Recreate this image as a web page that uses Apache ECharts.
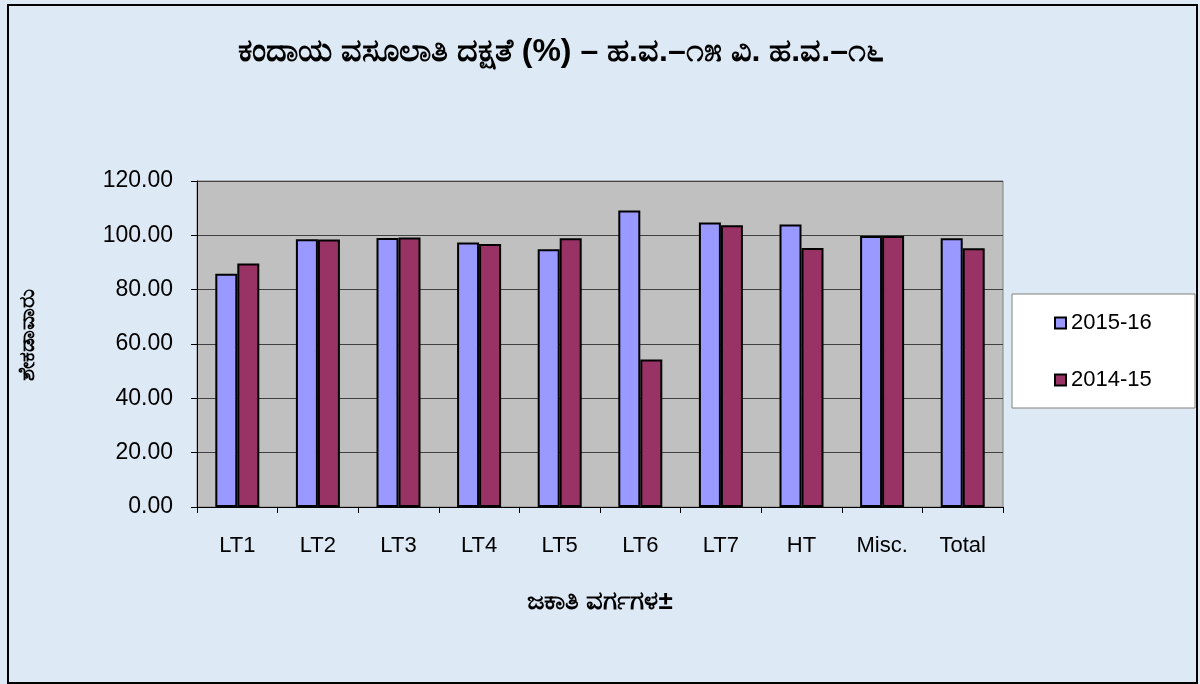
<!DOCTYPE html>
<html>
<head>
<meta charset="utf-8">
<script src="https://cdn.jsdelivr.net/npm/echarts@6/dist/echarts.min.js"></script>
<style>
html,body{margin:0;padding:0;background:#fff;}
#chart{width:1200px;height:684px;}
</style>
</head>
<body>
<div id="chart"></div>
<script>
var categories = ['LT1','LT2','LT3','LT4','LT5','LT6','LT7','HT','Misc.','Total'];
var series2015_16 = [85.9, 98.6, 99.0, 97.4, 94.9, 109.1, 104.7, 104.0, 99.8, 98.9];
var series2014_15 = [89.6, 98.5, 99.2, 96.8, 98.9, 54.3, 103.7, 95.3, 99.8, 95.2];
var seriesNames = ['2015-16','2014-15'];
var titleText = 'ಕಂದಾಯ ವಸೂಲಾತಿ ದಕ್ಷತೆ (%) – ಹ.ವ.–೧೫ ವಿ. ಹ.ವ.–೧೬';
var xAxisName = 'ಜಕಾತಿ ವರ್ಗಗಳ±';
var yAxisName = 'ಶೇಕಡಾವಾರು';

var chart = echarts.init(document.getElementById('chart'), null, {renderer:'canvas'});
var fontFam = 'Arial, "Liberation Sans", "Noto Sans", sans-serif';
chart.setOption({
  animation:false,
  backgroundColor:'#dde9f5',
  title:{
    text:titleText, left:556, textAlign:'center', top:31,
    textStyle:{fontFamily:fontFam, fontSize:32, fontWeight:'bold', color:'#000'}
  },
  graphic:[
    {type:'rect', shape:{x:8,y:5,width:1189,height:678}, style:{fill:'none', stroke:'#000', lineWidth:2}, silent:true, z:-1},
    {type:'rect', shape:{x:1012,y:294,width:183,height:114}, style:{fill:'#fff', stroke:'#808080', lineWidth:1}, silent:true, z:0}
  ],
  legend:{
    orient:'vertical', left:1054, top:312, padding:0, itemGap:35,
    itemWidth:11, itemHeight:11, icon:'rect', z:5,
    textStyle:{fontFamily:fontFam, fontSize:22, color:'#000'},
    data:seriesNames
  },
  grid:{left:197, top:181, width:806, height:326, show:true, backgroundColor:'#c0c0c0', borderColor:'#808080', borderWidth:1},
  xAxis:{
    type:'category', data:categories,
    name:xAxisName, nameLocation:'middle', nameGap:82,
    nameTextStyle:{fontFamily:fontFam, fontSize:26, fontWeight:'bold', color:'#000'},
    axisLine:{lineStyle:{color:'#000', width:1}},
    axisTick:{show:true, length:6, lineStyle:{color:'#000'}},
    axisLabel:{fontFamily:fontFam, fontSize:22, color:'#000', margin:28}
  },
  yAxis:{
    type:'value', min:0, max:120, interval:20,
    name:yAxisName, nameLocation:'middle', nameGap:158, nameRotate:90,
    nameTextStyle:{fontFamily:fontFam, fontSize:22, fontWeight:'bold', color:'#000', padding:[0,0,0,18]},
    axisLine:{show:true, lineStyle:{color:'#000', width:1}},
    axisTick:{show:true, length:6, lineStyle:{color:'#000'}},
    axisLabel:{fontFamily:fontFam, fontSize:23, color:'#000', margin:24, formatter:function(v){return v.toFixed(2);}},
    splitLine:{show:true, lineStyle:{color:'#404040', width:1}}
  },
  series:[
    {name:seriesNames[0], type:'bar', data:series2015_16, barWidth:22, barGap:'0%',
     itemStyle:{color:'#9999ff', borderColor:'#000', borderWidth:2}},
    {name:seriesNames[1], type:'bar', data:series2014_15, barWidth:22, barGap:'0%',
     itemStyle:{color:'#993366', borderColor:'#000', borderWidth:2}}
  ]
});
</script>
</body>
</html>
